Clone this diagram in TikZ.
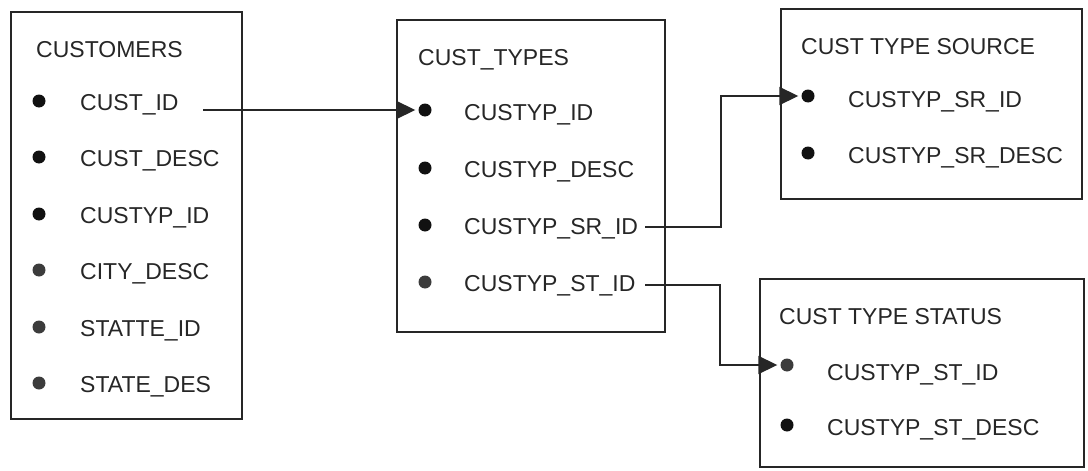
\documentclass[tikz,border=0pt]{standalone}
\usepackage{fontspec}
\setmainfont{Liberation Sans}
\usetikzlibrary{arrows.meta}
\definecolor{ink}{HTML}{262626}
\definecolor{dotA}{HTML}{111111}
\definecolor{dotB}{HTML}{3C3C3C}
\begin{document}
\begin{tikzpicture}[x=1pt,y=-1pt,
  tbl/.style={draw=ink,line width=1.8pt,anchor=north west,inner sep=0pt},
  lbl/.style={anchor=west,inner sep=0pt,text height=16.4pt,text depth=0pt,text=ink,
    font=\fontsize{23}{27}\selectfont},
  dotk/.style={circle,fill=dotA,inner sep=0pt,minimum size=13pt},
  dotg/.style={circle,fill=dotB,inner sep=0pt,minimum size=13pt},
  conn/.style={draw=ink,line width=1.8pt,-{Triangle[length=19pt,width=18pt]},shorten >=3pt}]
\useasboundingbox (0,0) rectangle (1088,471);
% boxes
\node[tbl,minimum width=231pt,minimum height=407pt] (customers) at (10,11) {};
\node[tbl,minimum width=268pt,minimum height=312pt] (custtypes) at (396,19) {};
\node[tbl,minimum width=301pt,minimum height=190pt] (source) at (780,8) {};
\node[tbl,minimum width=324pt,minimum height=188pt] (status) at (759,278) {};
% CUSTOMERS
\node[lbl] (t1) at (36,49) {CUSTOMERS};
\node[dotk] (c1b) at (39,101) {}; \node[lbl] (c1) at (80,102) {CUST\_ID};
\node[dotk] (c2b) at (39,157) {}; \node[lbl] (c2) at (80,158) {CUST\_DESC};
\node[dotk] (c3b) at (39,214) {}; \node[lbl] (c3) at (80,215) {CUSTYP\_ID};
\node[dotg] (c4b) at (39,270) {}; \node[lbl] (c4) at (80,271) {CITY\_DESC};
\node[dotg] (c5b) at (39,327) {}; \node[lbl] (c5) at (80,328) {STATTE\_ID};
\node[dotg] (c6b) at (39,383) {}; \node[lbl] (c6) at (80,384) {STATE\_DES};
% CUST_TYPES
\node[lbl] (t2) at (418,57) {CUST\_TYPES};
\node[dotk] (k1b) at (425,110) {}; \node[lbl] (k1) at (464,112) {CUSTYP\_ID};
\node[dotk] (k2b) at (425,168) {}; \node[lbl] (k2) at (464,169) {CUSTYP\_DESC};
\node[dotk] (k3b) at (425,225) {}; \node[lbl] (k3) at (464,226) {CUSTYP\_SR\_ID};
\node[dotg] (k4b) at (425,282) {}; \node[lbl] (k4) at (464,283) {CUSTYP\_ST\_ID};
% CUST TYPE SOURCE
\node[lbl] (t3) at (801,46) {CUST TYPE SOURCE};
\node[dotk] (s1b) at (808,96) {}; \node[lbl] (s1) at (848,99) {CUSTYP\_SR\_ID};
\node[dotk] (s2b) at (808,153) {}; \node[lbl] (s2) at (848,155) {CUSTYP\_SR\_DESC};
% CUST TYPE STATUS
\node[lbl] (t4) at (779,316) {CUST TYPE STATUS};
\node[dotg] (u1b) at (787,365) {}; \node[lbl] (u1) at (827,372) {CUSTYP\_ST\_ID};
\node[dotk] (u2b) at (787,425) {}; \node[lbl] (u2) at (827,427) {CUSTYP\_ST\_DESC};
% connectors
\coordinate (a1) at (203,110);
\coordinate (a2) at (645,227);
\coordinate (a3) at (645,285);
\draw[conn] (a1) -- (k1b.west);
\draw[conn] (a2) -- (721,227) |- (s1b.west);
\draw[conn] (a3) -- (720,285) |- (u1b.west);
\end{tikzpicture}
\end{document}
